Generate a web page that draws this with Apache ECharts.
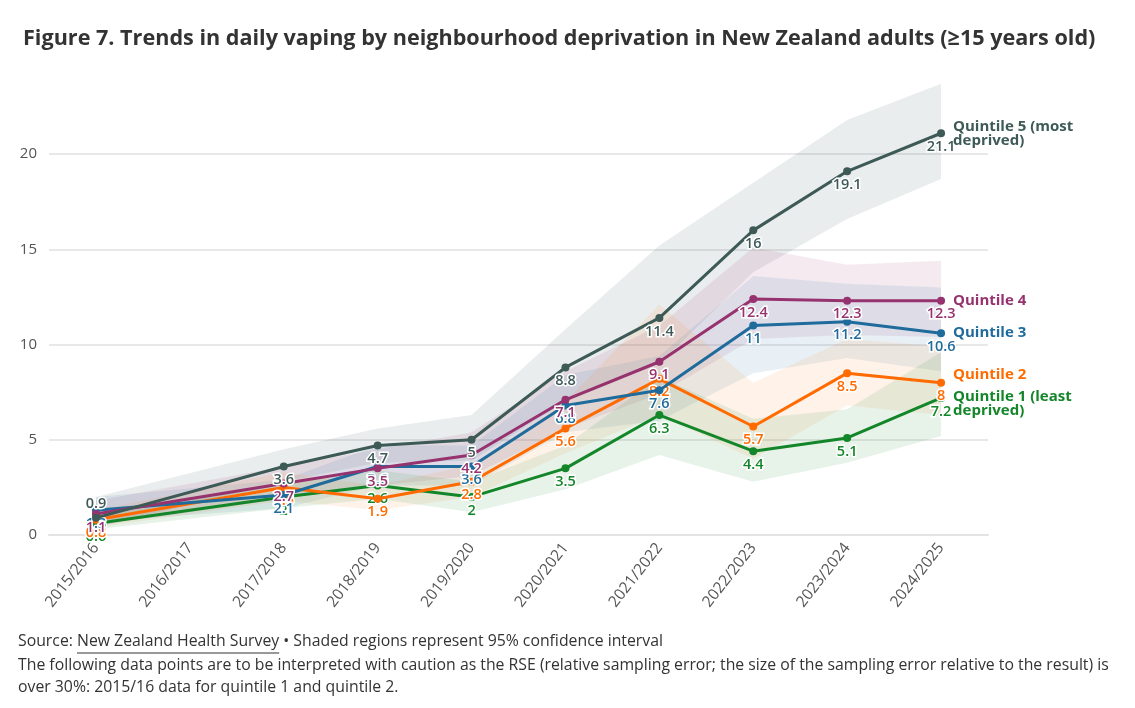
<!DOCTYPE html>
<html>
<head>
<meta charset="utf-8">
<script src="https://cdn.jsdelivr.net/npm/echarts@6/dist/echarts.min.js"></script>
<style>
  html, body { margin: 0; padding: 0; background: #fff; }
  #chart { width: 1135px; height: 708px; }
</style>
</head>
<body>
<div id="chart"></div>
<script>
const years = ['2015/2016', '2016/2017', '2017/2018', '2018/2019', '2019/2020',
  '2020/2021', '2021/2022', '2022/2023', '2023/2024', '2024/2025']

// point estimates (no survey for 2016/2017)
const q5 = [0.9, null, 3.6, 4.7, 5, 8.8, 11.4, 16, 19.1, 21.1]
const q4 = [1.1, null, 2.7, 3.5, 4.2, 7.1, 9.1, 12.4, 12.3, 12.3]
const q3 = [1.3, null, 2.1, 3.6, 3.6, 6.8, 7.6, 11, 11.2, 10.6]
const q2 = [0.8, null, 2.5, 1.9, 2.8, 5.6, 8.2, 5.7, 8.5, 8]
const q1 = [0.6, null, 2.0, 2.6, 2, 3.5, 6.3, 4.4, 5.1, 7.2]

// 95% confidence intervals
const q5Low = [0.4, null, 2.8, 3.8, 3.9, 7.0, 9.0, 13.8, 16.6, 18.7]
const q5High = [2.0, null, 4.5, 5.6, 6.3, 10.8, 15.2, 18.5, 21.8, 23.7]
const q4Low = [0.5, null, 1.9, 2.6, 3.1, 5.6, 7.4, 10.3, 10.5, 10.4]
const q4High = [1.8, null, 3.6, 4.5, 5.4, 8.6, 11.0, 15.1, 14.2, 14.4]
const q3Low = [0.7, null, 1.4, 2.6, 2.6, 5.4, 6.0, 8.5, 9.3, 8.6]
const q3High = [2.0, null, 2.9, 4.7, 4.7, 8.4, 9.4, 13.6, 13.2, 13.0]
const q2Low = [0.4, null, 1.8, 1.3, 2.0, 4.3, 6.3, 4.0, 6.8, 6.3]
const q2High = [1.3, null, 3.3, 2.6, 3.7, 7.0, 12.1, 8.0, 10.3, 9.9]
const q1Low = [0.3, null, 1.4, 1.9, 1.2, 2.4, 4.2, 2.8, 3.8, 5.2]
const q1High = [1.0, null, 2.7, 3.4, 2.8, 4.7, 8.3, 6.1, 6.6, 9.6]

const quintiles = [
  { name: 'Quintile 5 (most\ndeprived)', data: q5, low: q5Low, high: q5High, color: '#3d5a57', band: 'rgba(61,90,87,0.11)', endOffset: [0, 0] },
  { name: 'Quintile 4', data: q4, low: q4Low, high: q4High, color: '#96336f', band: 'rgba(150,51,111,0.10)', endOffset: [0, 0] },
  { name: 'Quintile 3', data: q3, low: q3Low, high: q3High, color: '#1f6b9c', band: 'rgba(31,107,156,0.10)', endOffset: [0, 0] },
  { name: 'Quintile 2', data: q2, low: q2Low, high: q2High, color: '#ff6b00', band: 'rgba(255,107,0,0.09)', endOffset: [0, -8] },
  { name: 'Quintile 1 (least\ndeprived)', data: q1, low: q1Low, high: q1High, color: '#14862a', band: 'rgba(20,134,42,0.10)', endOffset: [0, 6] },
]

const font = '"Open Sans", sans-serif'
const footSize = 15.8

const bandSeries = []
const lineSeries = []
quintiles.forEach((q, i) => {
  // confidence band as one polygon, skipping the missing year
  bandSeries.push({
    type: 'custom',
    silent: true,
    z: 1,
    data: [[0, 0]],
    renderItem(params, api) {
      const top = []
      const bottom = []
      q.high.forEach((v, k) => {
        if (v == null) return
        top.push(api.coord([k, v]))
        bottom.unshift(api.coord([k, q.low[k]]))
      })
      return {
        type: 'polygon',
        shape: { points: top.concat(bottom) },
        style: { fill: q.band },
      }
    },
  })
  lineSeries.push({
    name: q.name,
    type: 'line',
    data: q.data.map((v, k) => {
      if (i === 0 && k === 0) {
        return { value: v, label: { position: 'top' } }
      }
      return v
    }),
    connectNulls: true,
    symbol: 'circle',
    symbolSize: 8,
    color: q.color,
    lineStyle: { width: 3, color: q.color },
    z: 8 - i,
    label: {
      show: true,
      position: 'bottom',
      distance: 2,
      color: q.color,
      fontFamily: font,
      fontSize: 14.5,
      fontWeight: 600,
      textBorderColor: '#fff',
      textBorderWidth: 3,
    },
    endLabel: {
      show: true,
      formatter: q.name,
      color: q.color,
      fontFamily: font,
      fontSize: 15,
      fontWeight: 'bold',
      lineHeight: 14,
      distance: 12,
      offset: q.endOffset,
    },
  })
})

// width of footer text pieces, for the link underline
const ctx = document.createElement('canvas').getContext('2d')
ctx.font = footSize + 'px ' + font
const srcW = ctx.measureText('Source: ').width
const linkW = ctx.measureText('New Zealand Health Survey').width

const chart = echarts.init(document.getElementById('chart'))
chart.setOption({
  animation: false,
  title: {
    text: 'Figure 7. Trends in daily vaping by neighbourhood deprivation in New Zealand adults (\u226515 years old)',
    left: 18,
    top: 23,
    textStyle: { fontFamily: font, fontSize: 21.6, fontWeight: 'bold', color: '#333' },
  },
  grid: { left: 49, right: 147, top: 59, bottom: 173 },
  xAxis: {
    type: 'category',
    data: years,
    boundaryGap: true,
    axisLine: { lineStyle: { color: '#e3e3e3', width: 2 } },
    axisTick: { alignWithLabel: true, length: 7, lineStyle: { color: '#e3e3e3', width: 2 } },
    axisLabel: { rotate: 52, fontFamily: font, fontSize: 15.5, color: '#555', margin: 10 },
  },
  yAxis: {
    type: 'value',
    min: 0,
    max: 25,
    interval: 5,
    axisLine: { show: false },
    axisTick: { show: false },
    axisLabel: { fontFamily: font, fontSize: 15, color: '#555', margin: 12, showMaxLabel: false },
    splitLine: { showMaxLine: false, lineStyle: { color: '#e8e8e8', width: 2 } },
  },
  series: bandSeries.concat(lineSeries),
  graphic: [
    {
      type: 'text', left: 18, top: 633,
      style: { text: 'Source: ', font: footSize + 'px ' + font, fill: '#333' },
    },
    {
      type: 'text', left: 18 + srcW, top: 633,
      style: { text: 'New Zealand Health Survey', font: footSize + 'px ' + font, fill: '#333' },
    },
    {
      type: 'line', shape: { x1: 18 + srcW, y1: 653, x2: 18 + srcW + linkW, y2: 653 },
      style: { stroke: '#333', lineWidth: 1 },
    },
    {
      type: 'text', left: 18 + srcW + linkW, top: 633,
      style: { text: ' \u2022 Shaded regions represent 95% confidence interval', font: footSize + 'px ' + font, fill: '#333' },
    },
    {
      type: 'text', left: 18, top: 654,
      style: {
        text: 'The following data points are to be interpreted with caution as the RSE (relative sampling error; the size of the sampling error relative to the result) is\nover 30%: 2015/16 data for quintile 1 and quintile 2.',
        font: footSize + 'px ' + font, fill: '#333', lineHeight: 22,
      },
    },
  ],
})
</script>
</body>
</html>
